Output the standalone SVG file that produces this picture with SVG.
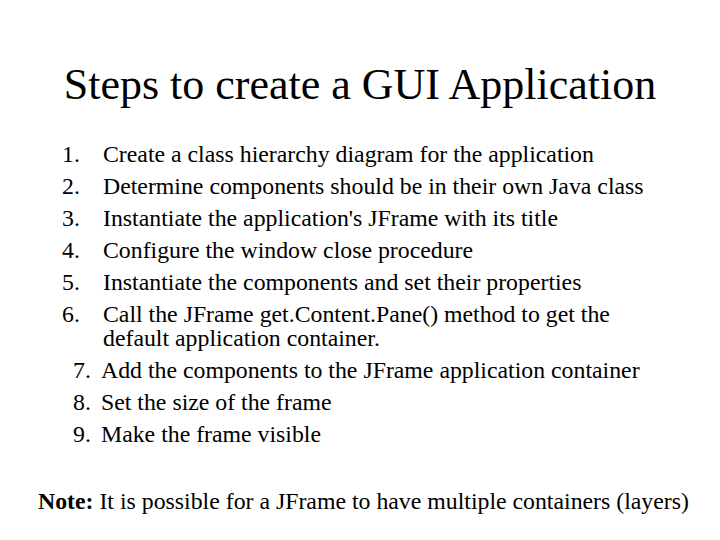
<svg xmlns="http://www.w3.org/2000/svg" width="720" height="540" viewBox="0 0 720 540">
<style>
text{font-family:"Liberation Serif","Times New Roman",serif;fill:#000;font-size:23.8px}
.t{font-size:44px}
</style>
<rect width="720" height="540" fill="#fff"/>
<text class="t" x="360" y="99" text-anchor="middle">Steps to create a GUI Application</text>
<g>
<text x="62" y="162">1.</text><text x="103" y="162">Create a class hierarchy diagram for the application</text>
<text x="62" y="194">2.</text><text x="103" y="194">Determine components should be in their own Java class</text>
<text x="62" y="226">3.</text><text x="103" y="226">Instantiate the application's JFrame with its title</text>
<text x="62" y="258">4.</text><text x="103" y="258">Configure the window close procedure</text>
<text x="62" y="290">5.</text><text x="103" y="290">Instantiate the components and set their properties</text>
<text x="62" y="322">6.</text><text x="103" y="322">Call the JFrame get.Content.Pane() method to get the</text>
<text x="103" y="346">default application container.</text>
<text x="73" y="378">7.</text><text x="101" y="378">Add the components to the JFrame application container</text>
<text x="73" y="410">8.</text><text x="101" y="410">Set the size of the frame</text>
<text x="73" y="442">9.</text><text x="101" y="442">Make the frame visible</text>
</g>
<text x="38" y="509"><tspan font-weight="bold">Note:</tspan> It is possible for a JFrame to have multiple containers (layers)</text>
</svg>
